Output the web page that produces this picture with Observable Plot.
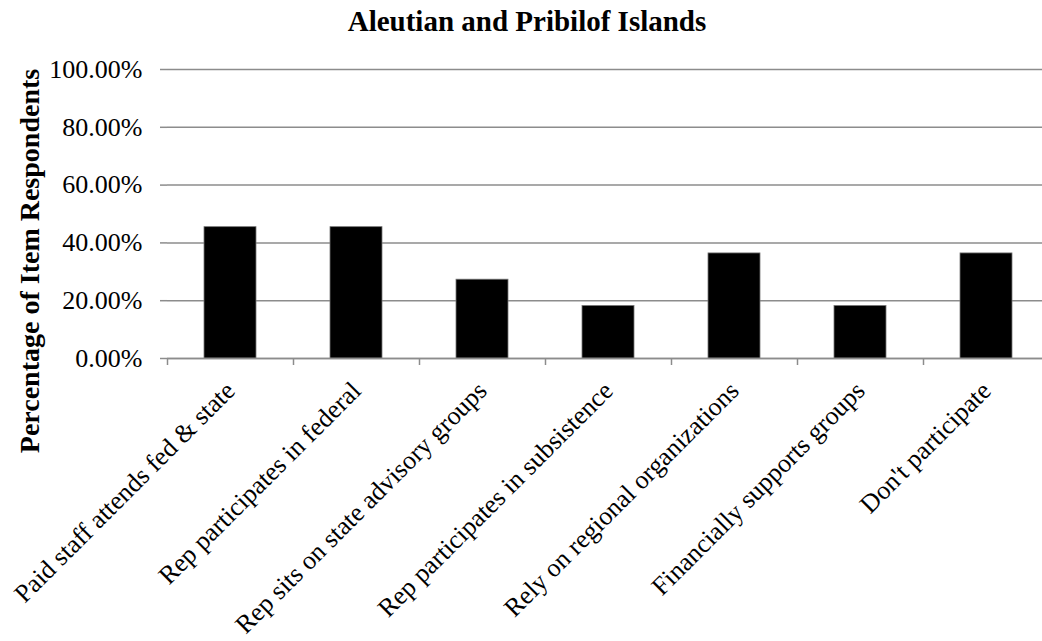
<!DOCTYPE html>
<html>
<head>
<meta charset="utf-8">
<script src="https://cdn.jsdelivr.net/npm/d3@7"></script>
<script src="https://cdn.jsdelivr.net/npm/@observablehq/plot@0.6"></script>
<style>
  body { margin: 0; background: #fff; }
  #wrap { position: relative; width: 1042px; height: 641px; overflow: hidden; }
  #title { position: absolute; top: 5px; left: 6px; width: 1042px; text-align: center; line-height: 29px;
           font: bold 29px "Liberation Serif", "Times New Roman", serif; color: #000; z-index: 1; }
  #wrap svg { position: absolute; top: 0; left: 0; }
</style>
</head>
<body>
<div id="wrap"><div id="title">Aleutian and Pribilof Islands</div></div>
<script>
const categories = [
  "Paid staff attends fed & state",
  "Rep participates in federal",
  "Rep sits on state advisory groups",
  "Rep participates in subsistence",
  "Rely on regional organizations",
  "Financially supports groups",
  "Don't participate"
];
const values = [0.4545, 0.4545, 0.2727, 0.1818, 0.3636, 0.1818, 0.3636];
const yTicks = [0, 0.2, 0.4, 0.6, 0.8, 1.0];
const yLabel = "Percentage of Item Respondents";

const data = categories.map((c, i) => ({category: c, value: values[i]}));
const font = '"Liberation Serif", "Times New Roman", serif';
const gridColor = "#8c8c8c";

const chart = Plot.plot({
  width: 1042,
  height: 641,
  marginTop: 69,
  marginBottom: 283,
  marginLeft: 167,
  marginRight: 0,
  style: {fontFamily: font, fontSize: "26px", color: "#000", background: "transparent", overflow: "visible"},
  x: {type: "band", domain: categories, range: [167, 1049], paddingInner: 0.59, paddingOuter: 0.295, axis: null},
  y: {domain: [0, 1], axis: null},
  marks: [
    Plot.gridY(yTicks, {stroke: gridColor, strokeOpacity: 1, strokeWidth: 1.5}),
    Plot.barY(data, {x: "category", y: "value", fill: "#000", stroke: "#777", strokeWidth: 0.8}),
    Plot.ruleY([0], {stroke: gridColor, strokeWidth: 1.5}),
    Plot.axisY(yTicks, {tickFormat: d3.format(".2%"), tickSize: 7, tickPadding: 18, stroke: gridColor, strokeWidth: 1.5, label: null, fontSize: 26}),
    Plot.ruleX([0], {x: () => 167, y1: 0, y2: 1, stroke: gridColor, strokeWidth: 1.5}),
    Plot.axisX(categories, {tickFormat: null, tickSize: 7, dx: -63, stroke: gridColor, strokeWidth: 1.5, label: null}),
    Plot.axisX(categories, {tickSize: 0, tickRotate: -45, tickPadding: 28, dx: 0, label: null, fontSize: 26}),
    Plot.text([yLabel], {frameAnchor: "left", textAnchor: "middle", rotate: -90, dx: -137, dy: 47, fontWeight: "bold", fontSize: 28, fill: "#000"})
  ]
});
document.getElementById("wrap").appendChild(chart);
</script>
</body>
</html>
